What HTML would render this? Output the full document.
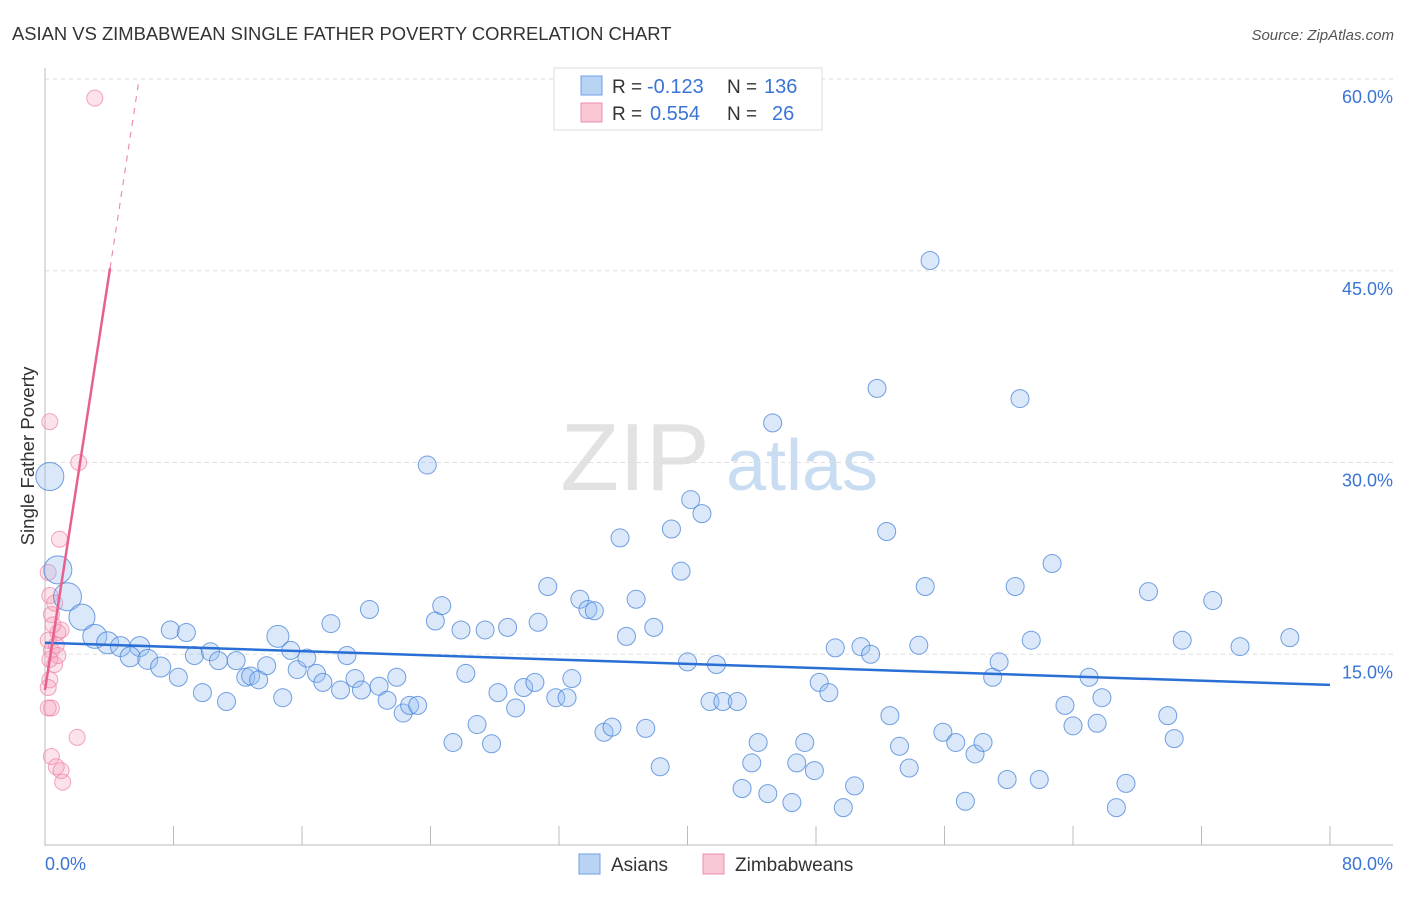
<!DOCTYPE html>
<html><head><meta charset="utf-8"><style>
body{margin:0;background:#fff;font-family:"Liberation Sans",sans-serif;}
svg text{font-family:"Liberation Sans",sans-serif;}
</style></head><body>
<svg id="chart" width="1406" height="892" viewBox="0 0 1406 892">
<text x="12" y="40" font-size="18.4" fill="#333">ASIAN VS ZIMBABWEAN SINGLE FATHER POVERTY CORRELATION CHART</text>
<text x="1394" y="40" font-size="15" fill="#555" text-anchor="end" font-style="italic">Source: ZipAtlas.com</text>
<g>
<text x="635" y="490" font-size="96" font-family="Liberation Serif" fill="#e2e2e2" text-anchor="middle">ZIP</text>
<text x="802" y="490" font-size="72" fill="#c8dcf2" text-anchor="middle">atlas</text>
</g>
<g id="grid"></g>
<g id="axes"></g>
<g id="marks"></g>
<text transform="translate(34,456) rotate(-90)" font-size="18.6" fill="#333" text-anchor="middle">Single Father Poverty</text>
<g>
<rect x="554" y="68" width="268" height="62" fill="#fff" stroke="#ddd"/>
<rect x="581" y="76" width="21" height="19" fill="#b8d3f4" stroke="#6f9fe0"/>
<rect x="581" y="103" width="21" height="19" fill="#f9c6d4" stroke="#ec8fab"/>
<text x="612" y="93" font-size="19" fill="#333">R =</text>
<text x="647" y="93" font-size="20" fill="#3a74d4">-0.123</text>
<text x="727" y="93" font-size="19" fill="#333">N =</text>
<text x="764" y="93" font-size="20" fill="#3a74d4">136</text>
<text x="612" y="120" font-size="19" fill="#333">R =</text>
<text x="650" y="120" font-size="20" fill="#3a74d4">0.554</text>
<text x="727" y="120" font-size="19" fill="#333">N =</text>
<text x="772" y="120" font-size="20" fill="#3a74d4">26</text>
</g>
<g>
<rect x="579" y="854" width="21" height="20" fill="#b8d3f4" stroke="#6f9fe0"/>
<text x="611" y="871" font-size="19" fill="#333">Asians</text>
<rect x="703" y="854" width="21" height="20" fill="#f9c6d4" stroke="#ec8fab"/>
<text x="735" y="871" font-size="19" fill="#333">Zimbabweans</text>
</g>
</svg>
<script>
const yTicks=[15,30,45,60];
const yTickLabels=["15.0%","30.0%","45.0%","60.0%"];
const xTicks=[0,8,16,24,32,40,48,56,64,72,80];
const asianX=[0.3,0.8,1.4,2.3,3.1,3.9,4.7,5.9,5.3,6.4,7.2,7.8,8.8,8.3,9.3,9.8,10.3,10.8,11.3,11.9,12.5,12.8,13.3,13.8,14.5,14.8,15.3,15.7,16.3,16.9,17.3,17.8,18.4,18.8,19.3,19.7,20.2,20.8,21.3,21.9,22.3,22.7,23.2,23.8,24.3,24.7,25.4,25.9,26.2,26.9,27.4,27.8,28.2,28.8,29.3,29.8,30.5,30.7,31.3,31.8,32.5,32.8,33.3,33.8,34.2,34.8,35.3,35.8,36.2,36.8,37.4,37.9,38.3,39.0,39.6,40.0,40.2,40.9,41.4,41.8,42.2,43.1,43.4,44.0,44.4,45.0,45.3,46.5,46.8,47.3,47.9,48.2,48.8,49.2,49.7,50.4,50.8,51.4,51.8,52.4,52.6,53.2,53.8,54.4,54.8,55.1,55.9,56.7,57.3,57.9,58.4,59.0,59.4,59.9,60.4,60.7,61.4,61.9,62.7,63.5,64.0,65.0,65.5,65.8,66.7,67.3,68.7,69.9,70.3,70.8,72.7,74.4,77.5];
const asianY=[28.9,21.6,19.5,17.9,16.4,15.9,15.6,15.6,14.8,14.6,14.0,16.9,16.7,13.2,14.9,12.0,15.2,14.5,11.3,14.5,13.2,13.3,13.0,14.1,16.4,11.6,15.3,13.8,14.7,13.5,12.8,17.4,12.2,14.9,13.1,12.2,18.5,12.5,11.4,13.2,10.4,11.0,11.0,29.8,17.6,18.8,8.1,16.9,13.5,9.5,16.9,8.0,12.0,17.1,10.8,12.4,12.8,17.5,20.3,11.6,11.6,13.1,19.3,18.5,18.4,8.9,9.3,24.1,16.4,19.3,9.2,17.1,6.2,24.8,21.5,14.4,27.1,26.0,11.3,14.2,11.3,11.3,4.5,6.5,8.1,4.1,33.1,3.4,6.5,8.1,5.9,12.8,12.0,15.5,3.0,4.7,15.6,15.0,35.8,24.6,10.2,7.8,6.1,15.7,20.3,45.8,8.9,8.1,3.5,7.2,8.1,13.2,14.4,5.2,20.3,35.0,16.1,5.2,22.1,11.0,9.4,13.2,9.6,11.6,3.0,4.9,19.9,10.2,8.4,16.1,19.2,15.6,16.3];
const asianSize=[14,14,14,13,12,11,10,10,10,10,10,9,9,9,9,9,9,9,9,9,9,9,9,9,11];
const zimX=[3.1,0.3,2.1,0.9,0.2,0.3,0.4,0.8,0.2,0.4,0.6,0.3,0.2,0.4,0.2,2.0,0.4,0.7,1.0,1.1,0.3,0.7,1.0,0.5,0.8,0.6];
const zimY=[58.5,33.2,30.0,24.0,21.4,19.6,18.1,16.7,16.1,15.3,14.2,13.0,12.4,10.8,10.8,8.5,7.0,6.2,5.9,5.0,14.6,15.7,16.9,17.3,14.9,19.0];
const asianTrend=[[0,15.9],[80,12.6]];
const zimTrendSolid=[[0,12.2],[4.05,45.2]];
const zimTrendDash=[[4.05,45.2],[5.86,60]];
const NS="http://www.w3.org/2000/svg";
const X0=45,X1=1330,Y0=846,Y60=79;
const sx=v=>X0+(v/80)*(X1-X0);
const sy=v=>Y0-(v/60)*(Y0-Y60);
function mk(tag,attrs,parent){const e=document.createElementNS(NS,tag);for(const k in attrs)e.setAttribute(k,attrs[k]);parent.appendChild(e);return e;}
const grid=document.getElementById('grid'),axes=document.getElementById('axes'),marks=document.getElementById('marks');
yTicks.forEach((t,i)=>{
 const l=mk('line',{x1:X0,x2:1393,y1:sy(t),y2:sy(t),stroke:'#ddd','stroke-dasharray':'4,4'},grid);
 
 
 const tx=mk('text',{x:1393,y:sy(t)+24,'font-size':18,fill:'#3a74d4','text-anchor':'end'},axes);
 tx.textContent=yTickLabels[i];
 
 
});
let a=mk('line',{x1:X0,x2:X0,y1:68,y2:846,stroke:'#bbb'},axes);


a=mk('line',{x1:X0,x2:1393,y1:845,y2:845,stroke:'#bbb'},axes);


xTicks.forEach(t=>{
 const l=mk('line',{x1:sx(t),x2:sx(t),y1:826,y2:845,stroke:'#bbb'},axes);
 
 
});
let t0=mk('text',{x:45,y:870,'font-size':18,fill:'#3a74d4'},axes);t0.textContent='0.0%';


let t1=mk('text',{x:1393,y:870,'font-size':18,fill:'#3a74d4','text-anchor':'end'},axes);t1.textContent='80.0%';


zimX.forEach((x,i)=>{
 const c=mk('circle',{cx:sx(x),cy:sy(zimY[i]),r:8,fill:'rgba(246,160,185,0.3)',stroke:'rgba(236,130,165,0.7)','stroke-width':1},marks);
 
 
});
asianX.forEach((x,i)=>{
 const r=asianSize[i]||9;
 const c=mk('circle',{cx:sx(x),cy:sy(asianY[i]),r:r,fill:'rgba(150,190,240,0.35)',stroke:'rgba(70,130,215,0.75)','stroke-width':1},marks);
 
 
});
let ln=mk('line',{x1:sx(asianTrend[0][0]),y1:sy(asianTrend[0][1]),x2:sx(asianTrend[1][0]),y2:sy(asianTrend[1][1]),stroke:'#2a6fd6','stroke-width':2.5},marks);


ln=mk('line',{x1:sx(zimTrendSolid[0][0]),y1:sy(zimTrendSolid[0][1]),x2:sx(zimTrendSolid[1][0]),y2:sy(zimTrendSolid[1][1]),stroke:'#e8608e','stroke-width':2.5},marks);


ln=mk('line',{x1:sx(zimTrendDash[0][0]),y1:sy(zimTrendDash[0][1]),x2:sx(zimTrendDash[1][0]),y2:sy(zimTrendDash[1][1]),stroke:'#ec8fab','stroke-width':1.2,'stroke-dasharray':'6,6'},marks);


</script>
</body></html>
